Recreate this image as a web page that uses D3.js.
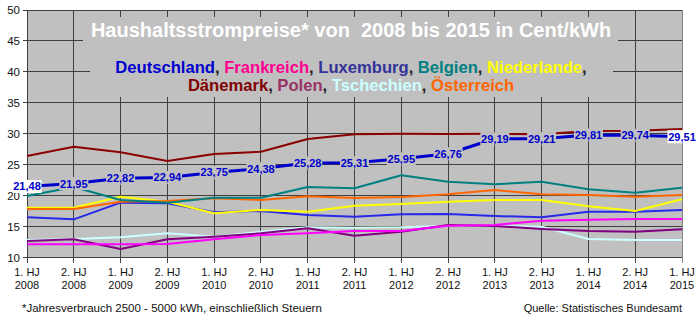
<!DOCTYPE html>
<html><head><meta charset="utf-8">
<script src="https://cdn.jsdelivr.net/npm/d3@7"></script>
<style>html,body{margin:0;padding:0;background:#fff;}svg{display:block;font-family:"Liberation Sans",Arial,sans-serif;}</style>
</head><body>
<svg id="chart" width="700" height="322"></svg>
<script>
const categories = ["1. HJ 2008","2. HJ 2008","1. HJ 2009","2. HJ 2009","1. HJ 2010","2. HJ 2010","1. HJ 2011","2. HJ 2011","1. HJ 2012","2. HJ 2012","1. HJ 2013","2. HJ 2013","1. HJ 2014","2. HJ 2014","1. HJ 2015"];
const yTicks = [10,15,20,25,30,35,40,45,50];
const deutschland = [21.48,21.95,22.82,22.94,23.75,24.38,25.28,25.31,25.95,26.76,29.19,29.21,29.81,29.74,29.51];
const frankreich = [12.13,12.13,12.13,12.2,12.94,13.64,13.91,14.28,14.28,15.14,15.25,15.95,16.11,16.22,16.22];
const luxemburg = [16.5,16.17,18.86,18.76,17.3,17.52,16.87,16.59,16.98,17.03,16.71,16.5,17.4,17.4,17.68];
const belgien = [19.94,21.4,19.29,18.86,19.66,19.66,21.39,21.18,23.28,22.25,21.83,22.25,21.02,20.47,21.28];
const niederlande = [18.05,18.05,19.83,19.02,17.14,17.68,17.4,18.37,18.65,19.02,19.29,19.29,18.27,17.52,19.4];
const daenemark = [26.4,27.91,27.0,25.6,26.73,27.1,29.15,29.91,30.0,29.96,30.0,29.9,30.44,30.49,30.77];
const polen = [12.67,12.94,11.37,12.94,13.36,13.91,14.72,13.52,14.17,15.25,15.09,14.61,14.28,14.17,14.56];
const tschechien = [12.83,12.99,13.26,13.91,13.36,14.17,14.88,14.82,14.88,15.14,15.14,14.98,12.99,12.83,12.83];
const oesterreich = [17.84,17.84,19.02,19.13,19.57,19.29,19.89,19.62,19.78,20.21,20.91,20.21,20.1,19.83,20.1];

const titleText = "Haushaltsstrompreise* von  2008 bis 2015 in Cent/kWh";
const legendLine1 = [["Deutschland","#0000CC"],["Frankreich","#FF0090"],["Luxemburg","#333399"],["Belgien","#008080"],["Niederlande","#FFFF00"]];
const legendLine2 = [["Dänemark","#800000"],["Polen","#993366"],["Tschechien","#CCFFFF"],["Österreich","#FF6600"]];
const footnote = "*Jahresverbrauch 2500 - 5000 kWh, einschließlich Steuern";
const source = "Quelle: Statistisches Bundesamt";

const series = [
  {name:"Tschechien", values:tschechien, color:"#CCFFFF", w:2},
  {name:"Polen", values:polen, color:"#800080", w:2},
  {name:"Frankreich", values:frankreich, color:"#FF00FF", w:2},
  {name:"Luxemburg", values:luxemburg, color:"#2828E8", w:2},
  {name:"Niederlande", values:niederlande, color:"#FFFF00", w:2},
  {name:"Österreich", values:oesterreich, color:"#FF6600", w:2},
  {name:"Belgien", values:belgien, color:"#008080", w:2},
  {name:"Dänemark", values:daenemark, color:"#8B0000", w:2}
];

(function () {
const svg = d3.select("#chart");
const pL = 27, pR = 682, pT = 10, pB = 257.5;
const bg = "#C0C0C0", grid = "#404040";

const x = d3.scalePoint().domain(categories).range([pL, pR]);
const y = d3.scaleLinear().domain([10, 50]).range([pB, pT]);

svg.append("rect").attr("x", pL).attr("y", pT).attr("width", pR - pL).attr("height", pB - pT).attr("fill", bg);

svg.append("g").selectAll("line").data(yTicks).join("line")
  .attr("x1", pL - 4).attr("x2", pR)
  .attr("y1", d => y(d)).attr("y2", d => y(d))
  .attr("stroke", grid).attr("stroke-width", 1).attr("shape-rendering", "crispEdges");
svg.append("g").selectAll("line").data(categories).join("line")
  .attr("x1", d => x(d)).attr("x2", d => x(d))
  .attr("y1", pT).attr("y2", pB + 5)
  .attr("stroke", grid).attr("stroke-width", 1).attr("shape-rendering", "crispEdges");
svg.append("line").attr("x1", pR).attr("x2", pR).attr("y1", pT).attr("y2", pB + 5)
  .attr("stroke", "#808080").attr("shape-rendering", "crispEdges");

svg.append("g").selectAll("text").data(yTicks).join("text")
  .attr("x", 20).attr("y", d => y(d) + 4).attr("text-anchor", "end")
  .attr("font-size", 11.5).attr("fill", "#111").text(d => d);

const xg = svg.append("g").attr("font-size", 11).attr("fill", "#111").attr("text-anchor", "middle");
xg.selectAll("text.hj").data(categories).join("text").attr("class", "hj")
  .attr("x", d => x(d)).attr("y", 276).text(d => d.split(" ").slice(0, 2).join(" "));
xg.selectAll("text.yr").data(categories).join("text").attr("class", "yr")
  .attr("x", d => x(d)).attr("y", 288.5).text(d => d.split(" ")[2]);

svg.append("rect").attr("x", 83).attr("y", 17).attr("width", 535).attr("height", 40).attr("fill", bg);
svg.append("rect").attr("x", 90).attr("y", 57).attr("width", 523).attr("height", 40).attr("fill", bg);

svg.append("text").attr("x", 351).attr("y", 37).attr("text-anchor", "middle")
  .attr("xml:space", "preserve").style("white-space", "pre")
  .attr("font-size", 20).attr("font-weight", "bold").attr("fill", "#fff").text(titleText);

function legendLine(items, yy, trailing) {
  const t = svg.append("text").attr("x", 351).attr("y", yy).attr("text-anchor", "middle")
    .attr("font-size", 16.6).attr("font-weight", "bold");
  items.forEach((it, i) => {
    t.append("tspan").attr("fill", it[1]).text(it[0]);
    if (i < items.length - 1 || trailing) t.append("tspan").attr("fill", "#222").text(", ");
  });
}
legendLine(legendLine1, 73, true);
legendLine(legendLine2, 91, false);

const line = d3.line().x((d, i) => x(categories[i])).y(d => y(d));
svg.append("g").selectAll("path").data(series).join("path")
  .attr("d", d => line(d.values)).attr("fill", "none")
  .attr("stroke", d => d.color).attr("stroke-width", d => d.w).attr("stroke-linejoin", "round");

svg.append("path").attr("d", line(deutschland)).attr("fill", "none")
  .attr("stroke", "#0000CC").attr("stroke-width", 3).attr("stroke-linejoin", "round");

const lab = svg.append("g").selectAll("g").data(deutschland).join("g")
  .attr("transform", (d, i) => `translate(${x(categories[i])},${y(d)})`);
lab.append("rect").attr("x", -14.5).attr("y", -6.5).attr("width", 29).attr("height", 13)
  .attr("fill", (d, i) => (i === 0 || i === deutschland.length - 1) ? "#fff" : bg);
lab.append("text").attr("text-anchor", "middle").attr("y", 4)
  .attr("font-size", 11).attr("font-weight", "bold").attr("fill", "#0000CC")
  .text(d => d.toFixed(2).replace(".", ","));

svg.append("text").attr("x", 22).attr("y", 312).attr("font-size", 11.5).attr("fill", "#111").text(footnote);
svg.append("text").attr("x", 682).attr("y", 312).attr("text-anchor", "end").attr("font-size", 11).attr("fill", "#111").text(source);
})();
</script>
</body></html>
